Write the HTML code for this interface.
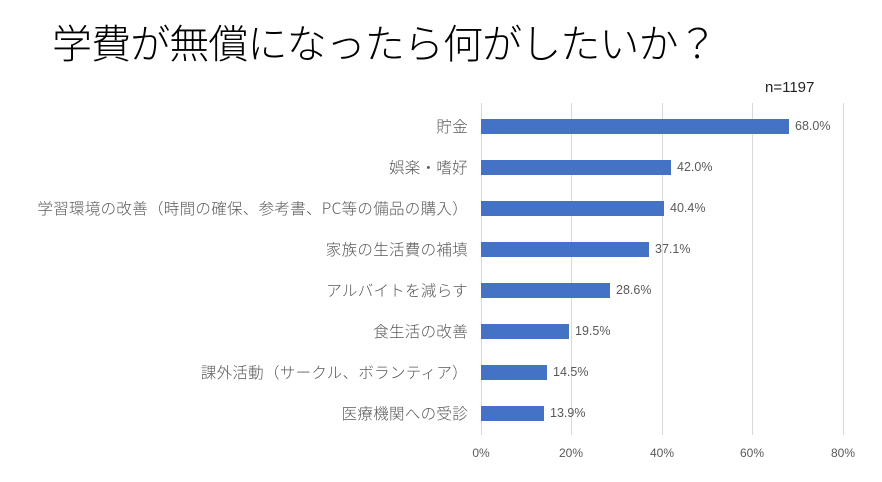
<!DOCTYPE html>
<html><head><meta charset="utf-8"><style>
body{margin:0;background:#fff;width:882px;height:482px;overflow:hidden;position:relative;font-family:"Liberation Sans","Noto Sans CJK JP",sans-serif}
.t{position:absolute;left:52px;top:12px;font-size:40px;letter-spacing:-0.9px;color:#000;white-space:nowrap;font-family:"Noto Sans CJK JP",sans-serif;font-weight:300}
.n{position:absolute;left:765px;top:79px;font-size:15px;color:#222}
.g{position:absolute;top:103px;height:332px;width:1px;background:#d9d9d9}
.b{position:absolute;left:481px;height:15px;background:#4472c4}
.l{position:absolute;right:414px;font-size:15.5px;line-height:18px;color:#595959;white-space:nowrap;font-family:"Noto Sans CJK JP",sans-serif;letter-spacing:0.3px;font-weight:300}
.v{position:absolute;font-size:12.5px;color:#595959}
.x{position:absolute;top:446px;font-size:12px;color:#595959;width:40px;text-align:center}
</style></head><body>
<div class="t">学費が無償になったら何がしたいか？</div>
<div class="n">n=1197</div>
<div class="g" style="left:481px"></div><div class="g" style="left:571px"></div><div class="g" style="left:662px"></div><div class="g" style="left:752px"></div><div class="g" style="left:843px"></div>
<div class="b" style="top:119px;width:308px"></div><div class="l" style="top:117px">貯金</div><div class="v" style="left:795px;top:119px">68.0%</div>
<div class="b" style="top:160px;width:190px"></div><div class="l" style="top:158px">娯楽・嗜好</div><div class="v" style="left:677px;top:160px">42.0%</div>
<div class="b" style="top:201px;width:183px"></div><div class="l" style="top:199px">学習環境の改善（時間の確保、参考書、PC等の備品の購入）</div><div class="v" style="left:670px;top:201px">40.4%</div>
<div class="b" style="top:242px;width:168px"></div><div class="l" style="top:240px">家族の生活費の補填</div><div class="v" style="left:655px;top:242px">37.1%</div>
<div class="b" style="top:283px;width:129px"></div><div class="l" style="top:281px">アルバイトを減らす</div><div class="v" style="left:616px;top:283px">28.6%</div>
<div class="b" style="top:324px;width:88px"></div><div class="l" style="top:322px">食生活の改善</div><div class="v" style="left:575px;top:324px">19.5%</div>
<div class="b" style="top:365px;width:66px"></div><div class="l" style="top:363px">課外活動（サークル、ボランティア）</div><div class="v" style="left:553px;top:365px">14.5%</div>
<div class="b" style="top:406px;width:63px"></div><div class="l" style="top:404px">医療機関への受診</div><div class="v" style="left:550px;top:406px">13.9%</div>
<div class="x" style="left:461px">0%</div><div class="x" style="left:551px">20%</div><div class="x" style="left:642px">40%</div><div class="x" style="left:732px">60%</div><div class="x" style="left:823px">80%</div>
</body></html>
